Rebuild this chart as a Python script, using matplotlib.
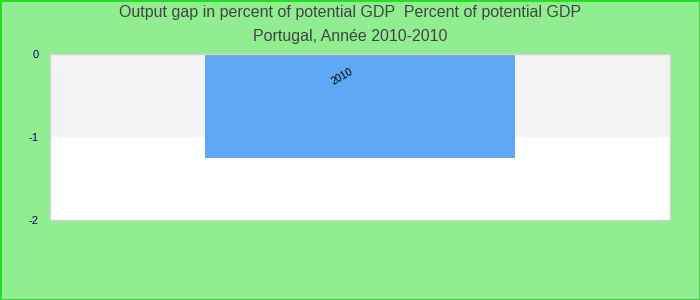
import matplotlib
matplotlib.use("Agg")
import matplotlib.pyplot as plt
from matplotlib.patches import Rectangle

plt.rcParams['font.family'] = ['Liberation Sans', 'DejaVu Sans']

# Output gap data
years = ['2010']
gap = [-1.25]
yticks = [0, -1, -2]

fig = plt.figure(figsize=(7, 3), dpi=100, facecolor='#90ee90')
ax = fig.add_axes([50 / 700, 80 / 300, 620 / 700, 166 / 300])
ax.set_facecolor('white')

# alternating horizontal bands
ax.axhspan(-1, 0, color='#f2f2f2', zorder=0)
ax.axhspan(-2, -1, color='white', zorder=0)

bars = ax.bar([0], gap, width=1.0, color='#5fa8f5', zorder=2)
for b, lab in zip(bars, years):
    ax.annotate(lab, xy=(b.get_x() + b.get_width() / 2, 0),
                xytext=(-18, -23), textcoords='offset pixels',
                ha='center', va='center', rotation=30, fontsize=7.5, color='black')

ax.set_xlim(-1, 1)
ax.set_ylim(-2, 0)
ax.set_xticks([])
ax.set_yticks(yticks)
ax.set_yticklabels([str(t) for t in yticks])
ax.tick_params(axis='y', length=0, pad=8, labelsize=8, labelcolor='#00008b')
for s in ax.spines.values():
    s.set_color('#d3d3d3')
    s.set_linewidth(1)

fig.text(0.5, 1 - 13 / 300, 'Output gap in percent of potential GDP  Percent of potential GDP',
         ha='center', va='center', fontsize=11.5, color='#444444')
fig.text(0.5, 1 - 36 / 300, 'Portugal, Année 2010-2010',
         ha='center', va='center', fontsize=11.5, color='#444444')

fig.patches.append(Rectangle((0, 0), 1, 1, transform=fig.transFigure, fill=False,
                             edgecolor='#22dd22', linewidth=2))

fig.savefig('out.png', dpi=100, facecolor=fig.get_facecolor())
